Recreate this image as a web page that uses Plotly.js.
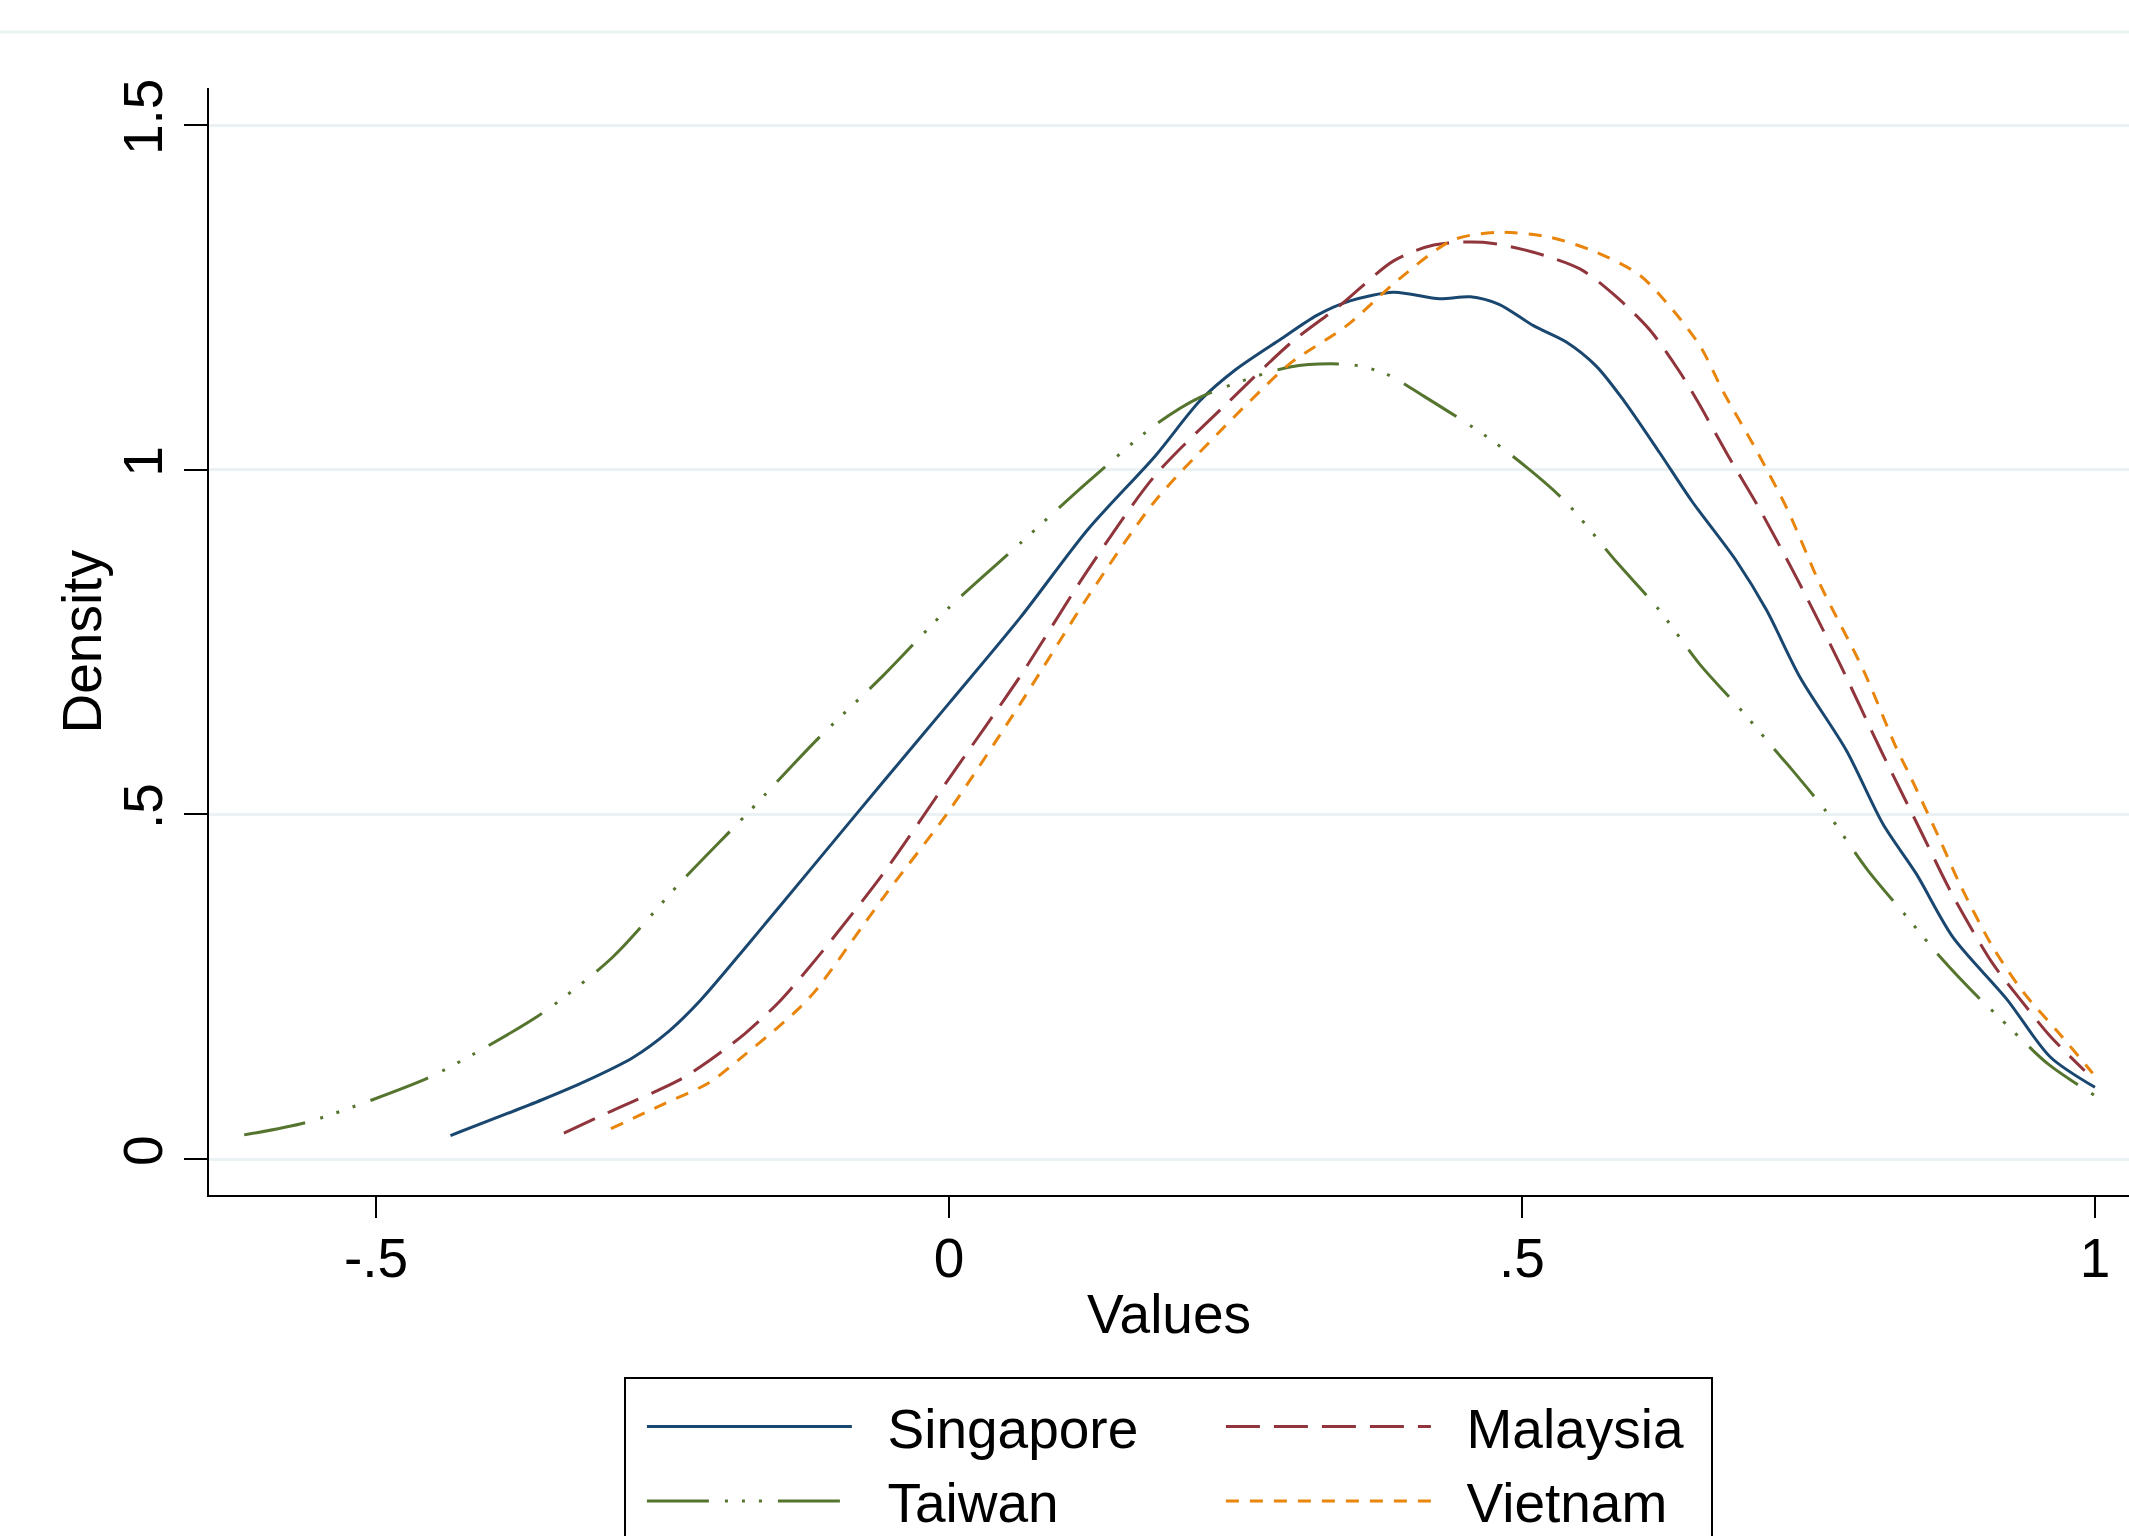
<!DOCTYPE html>
<html>
<head>
<meta charset="utf-8">
<script src="https://cdn.plot.ly/plotly-3.0.1.min.js"></script>
<style>
  html, body { margin: 0; padding: 0; background: #ffffff; }
  #chart { width: 2129px; height: 1536px; }
</style>
</head>
<body>
<div id="chart"></div>
<script>
// ---- Data (kernel density estimates) ----
const seriesNames = ["Singapore", "Malaysia", "Taiwan", "Vietnam"];

const singaporeX = [-0.435, -0.355, -0.317, -0.276, -0.244, -0.217, -0.175, -0.116, -0.057, 0, 0.062, 0.121, 0.18, 0.219, 0.25, 0.29, 0.321, 0.35, 0.388, 0.428, 0.455, 0.48, 0.51, 0.539, 0.565, 0.589, 0.62, 0.648, 0.687, 0.7135, 0.7426, 0.783, 0.815, 0.844, 0.876, 0.923, 0.961, 1.0];
const singaporeY = [0.034, 0.086, 0.113, 0.147, 0.186, 0.23, 0.312, 0.43, 0.548, 0.661, 0.785, 0.913, 1.02, 1.10, 1.145, 1.19, 1.224, 1.245, 1.2575, 1.248, 1.251, 1.24, 1.209, 1.185, 1.15, 1.10, 1.025, 0.955, 0.868, 0.796, 0.699, 0.593, 0.486, 0.414, 0.322, 0.232, 0.148, 0.104];

const malaysiaX = [-0.336, -0.294, -0.236, -0.209, -0.178, -0.147, -0.116, -0.057, 0, 0.062, 0.121, 0.18, 0.245, 0.299, 0.341, 0.388, 0.423, 0.466, 0.51, 0.551, 0.583, 0.612, 0.638, 0.653, 0.68, 0.708, 0.74, 0.7775, 0.812, 0.85, 0.876, 0.911, 0.9346, 0.96, 0.991];
const malaysiaY = [0.0375, 0.07, 0.114, 0.143, 0.182, 0.23, 0.29, 0.415, 0.552, 0.70, 0.854, 0.992, 1.10, 1.185, 1.238, 1.303, 1.326, 1.330, 1.3155, 1.291, 1.250, 1.202, 1.141, 1.10, 1.02, 0.941, 0.842, 0.718, 0.597, 0.469, 0.382, 0.283, 0.232, 0.18, 0.128];

const taiwanX = [-0.615, -0.561, -0.503, -0.454, -0.412, -0.355, -0.294, -0.235, -0.175, -0.116, -0.057, 0, 0.062, 0.121, 0.18, 0.219, 0.2975, 0.35, 0.38, 0.416, 0.476, 0.536, 0.5826, 0.619, 0.655, 0.693, 0.721, 0.734, 0.766, 0.802, 0.836, 0.865, 0.8997, 0.913, 0.959, 1.0];
const taiwanY = [0.035, 0.053, 0.086, 0.118, 0.155, 0.2115, 0.292, 0.40, 0.503, 0.607, 0.702, 0.80, 0.893, 0.982, 1.065, 1.105, 1.149, 1.1526, 1.14, 1.105, 1.04, 0.957, 0.866, 0.798, 0.718, 0.648, 0.593, 0.568, 0.503, 0.4185, 0.351, 0.293, 0.232, 0.211, 0.138, 0.092];

const vietnamX = [-0.295, -0.25, -0.209, -0.182, -0.15, -0.13, -0.116, -0.057, 0, 0.062, 0.121, 0.18, 0.239, 0.263, 0.2975, 0.347, 0.393, 0.44, 0.481, 0.525, 0.565, 0.603, 0.632, 0.656, 0.676, 0.704, 0.732, 0.76, 0.798, 0.827, 0.8386, 0.865, 0.882, 0.911, 0.9375, 0.97, 0.998];
const vietnamY = [0.044, 0.079, 0.111, 0.146, 0.19, 0.22, 0.245, 0.38, 0.505, 0.66, 0.815, 0.955, 1.06, 1.10, 1.154, 1.209, 1.277, 1.3335, 1.3445, 1.337, 1.3155, 1.282, 1.231, 1.178, 1.112, 1.03, 0.941, 0.834, 0.709, 0.595, 0.556, 0.462, 0.399, 0.307, 0.242, 0.18, 0.1245];

const xTickVals = [-0.5, 0, 0.5, 1];
const xTickText = ["-.5", "0", ".5", "1"];
const yTickVals = [0, 0.5, 1, 1.5];
const yTickText = ["0", ".5", "1", "1.5"];

const xTitle = "Values";
const yTitle = "Density";

// ---- Styles ----
const FONT = "Liberation Sans, Arial, sans-serif";
const FS = 55;
const GAP = "\u00a0\u00a0"; // gap between legend key and label

const traces = [
  { x: singaporeX, y: singaporeY, name: GAP + seriesNames[0], legendgroup: "a", legendwidth: 341,
    line: { color: "#1a476f", width: 3, dash: "solid" } },
  { x: malaysiaX, y: malaysiaY, name: GAP + seriesNames[1], legendgroup: "b", legendwidth: 270,
    line: { color: "#90353b", width: 3, dash: "34px,14px" } },
  { x: taiwanX, y: taiwanY, name: GAP + seriesNames[2], legendgroup: "a", legendwidth: 341,
    line: { color: "#55752f", width: 3, dash: "62px,16px,3px,14px,3px,14px,3px,16px" } },
  { x: vietnamX, y: vietnamY, name: GAP + seriesNames[3], legendgroup: "b", legendwidth: 270,
    line: { color: "#e8850a", width: 3, dash: "13px,11px" } }
].map(t => Object.assign({ type: "scatter", mode: "lines", hoverinfo: "skip" }, t));
traces.forEach(t => { t.line.shape = "spline"; t.line.smoothing = 0.8; });

const layout = {
  width: 2129,
  height: 1536,
  paper_bgcolor: "#ffffff",
  plot_bgcolor: "#ffffff",
  font: { family: FONT, size: FS, color: "#000000" },
  margin: { l: 209, r: 0, t: 88, b: 341, pad: 0, autoexpand: false },
  showlegend: true,
  legend: {
    orientation: "h",
    traceorder: "grouped",
    xref: "paper", x: 0.2161, xanchor: "left",
    yref: "container", y: 1 - 1377 / 1536, yanchor: "top",
    bordercolor: "#000000", borderwidth: 2,
    bgcolor: "#ffffff",
    font: { family: FONT, size: FS, color: "#000000" },
    title: { text: "\u00a0", side: "top", font: { family: FONT, size: 4, color: "#ffffff" } },
    itemwidth: 205,
    indentation: 18,
    tracegroupgap: 0
  },
  xaxis: {
    range: [-0.6457, 1.0297],
    tickvals: xTickVals, ticktext: xTickText,
    ticks: "outside", ticklen: 21, tickwidth: 2, tickcolor: "#000000",
    ticklabelstandoff: -7,
    showline: true, linecolor: "#000000", linewidth: 2,
    showgrid: false, zeroline: false,
    tickfont: { family: FONT, size: FS, color: "#000000" },
    title: { text: xTitle, font: { family: FONT, size: FS, color: "#000000" }, standoff: 6 }
  },
  yaxis: {
    range: [-0.0522, 1.5538],
    tickvals: yTickVals, ticktext: yTickText,
    tickangle: -90,
    ticks: "outside", ticklen: 23, tickwidth: 2, tickcolor: "#000000",
    showline: true, linecolor: "#000000", linewidth: 2,
    showgrid: true, gridcolor: "#eaf2f3", gridwidth: 3,
    zeroline: false,
    tickfont: { family: FONT, size: FS, color: "#000000" }
  },
  annotations: [
    { text: yTitle, xref: "paper", yref: "paper", x: (81 - 209) / 1920, y: 0.5,
      xanchor: "center", yanchor: "middle", textangle: -90, showarrow: false,
      font: { family: FONT, size: FS, color: "#000000" } }
  ],
  shapes: [
    { type: "line", xref: "paper", yref: "paper",
      x0: -209 / 1920, x1: 1, y0: 1.0506, y1: 1.0506,
      line: { color: "#eaf2f3", width: 3 } }
  ]
};

Plotly.newPlot("chart", traces, layout, { displayModeBar: false, staticPlot: true });
</script>
</body>
</html>
